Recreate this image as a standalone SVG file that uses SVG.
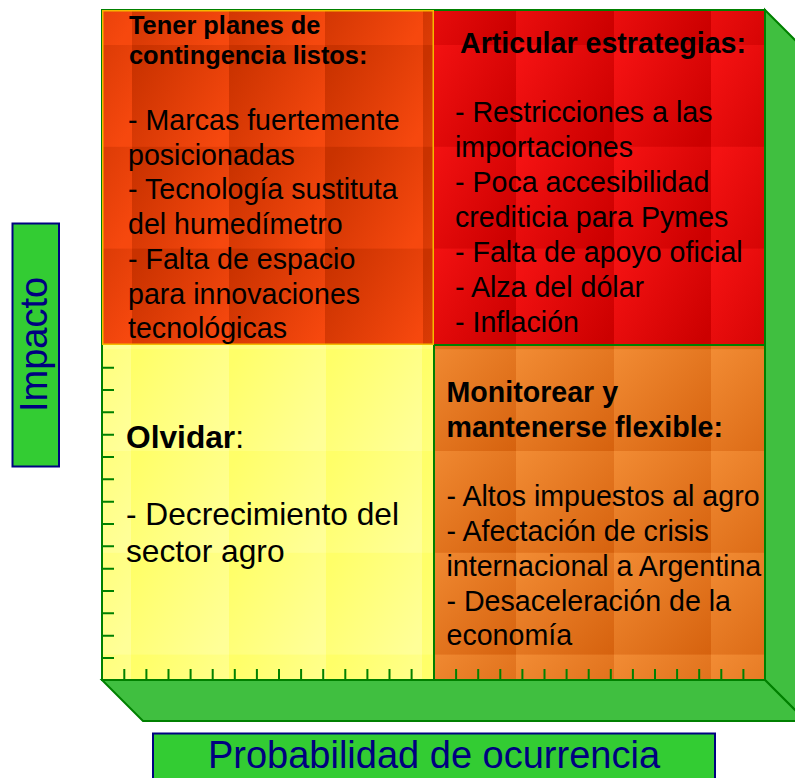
<svg xmlns="http://www.w3.org/2000/svg" width="795" height="778" viewBox="0 0 795 778">
<defs>
<linearGradient id="gTL" x1="0" y1="0.2" x2="1" y2="0.8"><stop offset="0" stop-color="#C93200"/><stop offset="1" stop-color="#F6480E"/></linearGradient>
<linearGradient id="gTR" x1="0" y1="0.2" x2="1" y2="0.8"><stop offset="0" stop-color="#F41212"/><stop offset="1" stop-color="#CC0000"/></linearGradient>
<linearGradient id="gBL" x1="0" y1="0.2" x2="1" y2="0.8"><stop offset="0" stop-color="#FFFF68"/><stop offset="1" stop-color="#FFFF98"/></linearGradient>
<linearGradient id="gBR" x1="0" y1="0" x2="1" y2="1"><stop offset="0" stop-color="#F28C34"/><stop offset="1" stop-color="#D6620E"/></linearGradient>
<pattern id="pTL" patternUnits="userSpaceOnUse" x="34" y="45" width="97" height="101.8"><rect width="97" height="101.8" fill="url(#gTL)"/></pattern>
<pattern id="pTR" patternUnits="userSpaceOnUse" x="516" y="45" width="97" height="101.8"><rect width="97" height="101.8" fill="url(#gTR)"/></pattern>
<pattern id="pBL" patternUnits="userSpaceOnUse" x="131" y="451" width="97" height="101.8"><rect width="97" height="101.8" fill="url(#gBL)"/></pattern>
<pattern id="pBR" patternUnits="userSpaceOnUse" x="516" y="451" width="97" height="101.8"><rect width="97" height="101.8" fill="url(#gBR)"/></pattern>
</defs>
<style>
.t{font-family:"Liberation Sans",Arial,sans-serif;fill:#000}
.b{font-weight:bold}
.body{font-size:28.6px}
.bodyL{font-size:31.7px}
.face{stroke:#008000;stroke-width:2;fill:#40BF40;stroke-linejoin:miter}
.grid{stroke:#008000;stroke-width:2;fill:none}
.tick{stroke:#008000;stroke-width:2}
.axisbox{fill:#33CC33;stroke:#000080;stroke-width:2}
.axistext{font-family:"Liberation Sans",Arial,sans-serif;font-size:38px;fill:#000080;text-anchor:middle}
</style>

<g id="frame3d">
<polygon class="face" points="765,10 806,51 806,721 765,680"/>
<polygon class="face" points="102,680 765,680 806,721 143,721"/>
</g>

<g id="q-top-left">
<rect x="102" y="10" width="332" height="335" fill="url(#pTL)"/>
</g>
<g id="q-top-right">
<rect x="434" y="10" width="331" height="335" fill="url(#pTR)"/>
</g>
<g id="q-bottom-left">
<rect x="102" y="345" width="332" height="335" fill="url(#pBL)"/>
</g>
<g id="q-bottom-right">
<rect x="434" y="345" width="331" height="335" fill="url(#pBR)"/>
</g>

<g id="grid">
<rect class="grid" x="102" y="10" width="663" height="670"/>
<line class="grid" x1="434" y1="345" x2="434" y2="680"/>
<line class="grid" x1="434" y1="345" x2="765" y2="345"/>
<rect x="102.75" y="10.75" width="330.5" height="333.5" fill="none" stroke="#F5B800" stroke-width="1.5"/>
</g>

<g id="ticks">
<path class="tick" d="M102 367.7h12M102 390h12M102 412.3h12M102 434.7h12M102 457h12M102 479.3h12M102 501.7h12M102 524h12M102 546.3h12M102 568.7h12M102 591h12M102 613.3h12M102 635.7h12M102 658h12"/>
<path class="tick" d="M124.3 680v-11M146.4 680v-11M168.5 680v-11M190.6 680v-11M212.7 680v-11M234.8 680v-11M256.9 680v-11M279 680v-11M301.1 680v-11M323.2 680v-11M345.3 680v-11M367.4 680v-11M389.5 680v-11M411.6 680v-11"/>
<path class="tick" d="M456.1 680v-11M478.2 680v-11M500.3 680v-11M522.4 680v-11M544.5 680v-11M566.6 680v-11M588.7 680v-11M610.8 680v-11M632.9 680v-11M655 680v-11M677.1 680v-11M699.2 680v-11M721.3 680v-11M743.4 680v-11"/>
</g>

<g id="text-top-left" class="t">
<text class="b" font-size="25.4" x="129" y="34">Tener planes de</text>
<text class="b" font-size="25.4" x="129" y="64">contingencia listos:</text>
<text class="body" x="128" y="130">- Marcas fuertemente</text>
<text class="body" x="128" y="165">posicionadas</text>
<text class="body" x="128" y="199">- Tecnología sustituta</text>
<text class="body" x="128" y="234">del humedímetro</text>
<text class="body" x="128" y="269">- Falta de espacio</text>
<text class="body" x="128" y="304">para innovaciones</text>
<text class="body" x="128" y="338">tecnológicas</text>
</g>

<g id="text-top-right" class="t">
<text class="b body" x="460" y="53">Articular estrategias:</text>
<text class="body" x="455" y="122">- Restricciones a las</text>
<text class="body" x="455" y="157">importaciones</text>
<text class="body" x="455" y="192">- Poca accesibilidad</text>
<text class="body" x="455" y="227">crediticia para Pymes</text>
<text class="body" x="455" y="262">- Falta de apoyo oficial</text>
<text class="body" x="455" y="297">- Alza del dólar</text>
<text class="body" x="455" y="332">- Inflación</text>
</g>

<g id="text-bottom-left" class="t">
<text class="bodyL" x="126" y="448"><tspan class="b">Olvidar</tspan>:</text>
<text class="bodyL" x="126" y="525">- Decrecimiento del</text>
<text class="bodyL" x="126" y="562">sector agro</text>
</g>

<g id="text-bottom-right" class="t">
<text class="b body" x="446.5" y="402">Monitorear y</text>
<text class="b body" x="446.5" y="437">mantenerse flexible:</text>
<text class="body" x="446.5" y="505.7">- Altos impuestos al agro</text>
<text class="body" x="446.5" y="541">- Afectación de crisis</text>
<text class="body" x="446.5" y="575.7">internacional a Argentina</text>
<text class="body" x="446.5" y="610.7">- Desaceleración de la</text>
<text class="body" x="446.5" y="645">economía</text>
</g>

<g id="axis-impacto">
<rect class="axisbox" x="12.5" y="223.5" width="46.5" height="243"/>
<text class="axistext" transform="translate(47,344.5) rotate(-90)">Impacto</text>
</g>

<g id="axis-probabilidad">
<rect class="axisbox" x="153" y="733.5" width="562" height="50"/>
<text class="axistext" x="434" y="768">Probabilidad de ocurrencia</text>
</g>
</svg>
